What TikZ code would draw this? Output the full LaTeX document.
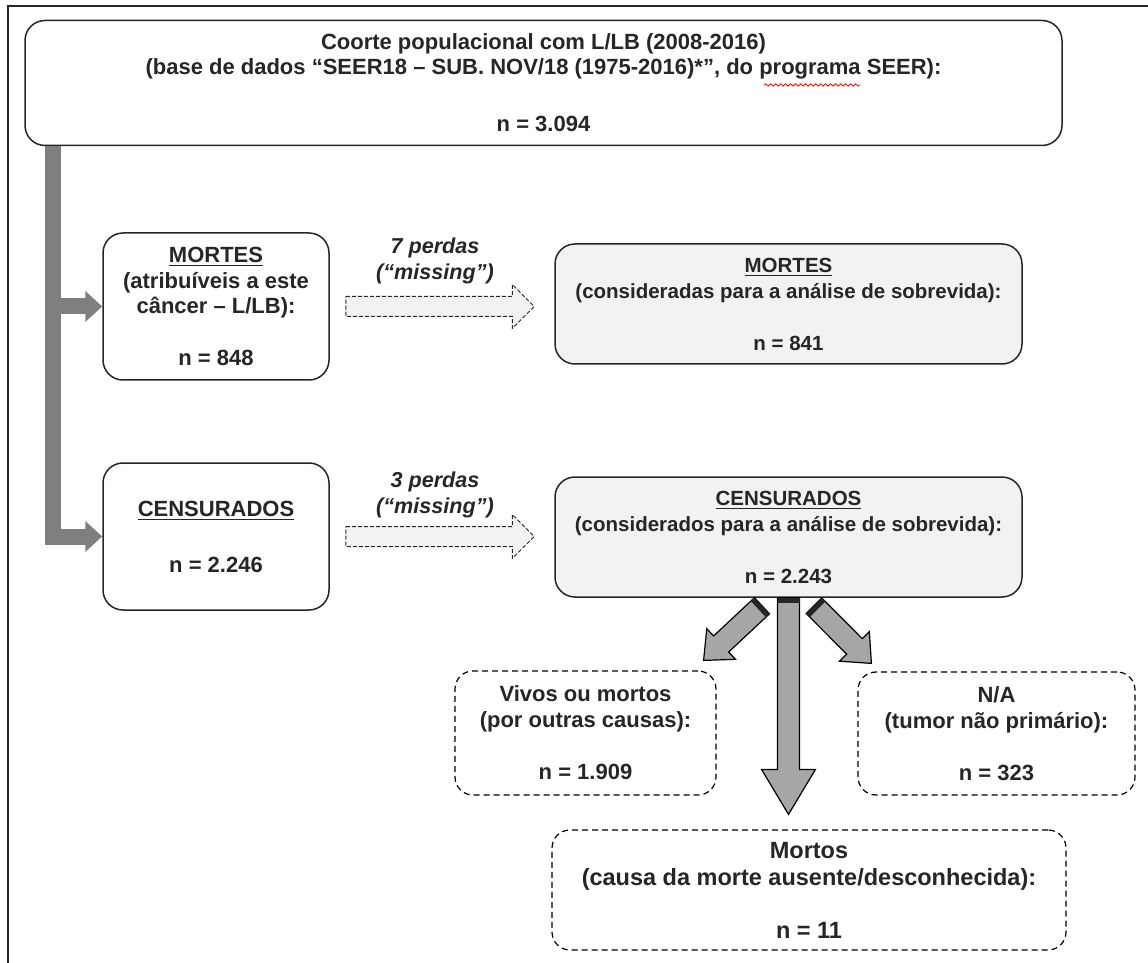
\documentclass[tikz,border=0pt]{standalone}
\usepackage{fontspec}
\setmainfont{Liberation Sans}
\usepackage{tikz}
\usetikzlibrary{calc}
\usetikzlibrary{arrows.meta}
\usetikzlibrary{decorations.pathmorphing}

\definecolor{inkgray}{HTML}{262626}
\definecolor{bargray}{HTML}{7F7F7F}
\definecolor{arrowgray}{HTML}{A6A6A6}
\definecolor{boxfill}{HTML}{F2F2F2}

\tikzset{
    every node/.style = {font=\fontsize{11}{13}\selectfont\bfseries, text=inkgray, align=center},
    roundbox/.style = {draw=inkgray, line width=0.75pt, rounded corners=10pt, inner sep=0pt, fill=white},
    greybox/.style = {roundbox, fill=boxfill, font=\fontsize{10.25}{13}\selectfont\bfseries},
    dashbox/.style = {draw=black, line width=0.6pt, dash pattern=on 3pt off 2pt, rounded corners=9pt, inner sep=0pt, fill=white},
    lossnote/.style = {font=\fontsize{10.8}{13}\selectfont\bfseries\itshape},
    sidebar/.style = {draw=bargray, line width=8pt, -{Triangle[length=8.5pt,width=15pt]}},
    lossarrow/.style = {draw=inkgray, line width=0.5pt, dash pattern=on 2pt off 1pt, fill=boxfill},
    splitarrow/.style = {draw=black, line width=0.6pt, fill=arrowgray}
}

% block arrow: [style]{from}{to}{half shaft}{half head}{head length}
\newcommand{\fatarrow}[6][]{%
    \coordinate (fa-h) at ($(#3)!#6!(#2)$);
    \draw[#1] ($(#2)!#4!90:(#3)$) -- ($(fa-h)!#4!90:(#3)$) -- ($(fa-h)!#5!90:(#3)$) -- (#3)
        -- ($(fa-h)!#5!-90:(#3)$) -- ($(fa-h)!#4!-90:(#3)$) -- ($(#2)!#4!-90:(#3)$) -- cycle;
}
\newcommand{\buttband}[3]{%
    \coordinate (bb-c) at ($(#1)!1.25pt!(#2)$);
    \draw[inkgray, line width=2.5pt] ($(bb-c)!#3!90:(#2)$) -- ($(bb-c)!#3!-90:(#2)$);
}

\begin{document}
\begin{tikzpicture}[x=0.5pt, y=-0.5pt]
    \useasboundingbox (0,0) rectangle (1148,963);
    \draw[inkgray, line width=1pt] (8,963) -- (8,6) -- (1148,6);

    \node[roundbox, minimum width=518.5pt, minimum height=62.5pt, font=\fontsize{11}{12.5}\selectfont\bfseries] (cohort) at (543.5,83)
        {Coorte populacional com L/LB (2008-2016)\\(base de dados “SEER18 – SUB. NOV/18 (1975-2016)*”, do programa SEER):\\[16pt]n = 3.094};
    \draw[red, line width=0.4pt, decorate, decoration={snake, amplitude=0.6pt, segment length=2.5pt}] (764,85) -- (860,85);

    \node[roundbox, minimum width=113pt, minimum height=73.5pt, font=\fontsize{11}{12.75}\selectfont\bfseries] (deaths) at (216,306.5)
        {\underline{MORTES}\\(atribuíveis a este\\câncer – L/LB):\\[13pt]n = 848};
    \node[roundbox, minimum width=113pt, minimum height=73.5pt] (censored) at (216,536.5)
        {\underline{CENSURADOS}\\[15pt]n = 2.246};
    \node[greybox, minimum width=233.5pt, minimum height=60pt] (deathsok) at (788.5,304)
        {\underline{MORTES}\\(consideradas para a análise de sobrevida):\\[13pt]n = 841};
    \node[greybox, minimum width=233.5pt, minimum height=60pt] (censok) at (788.5,537)
        {\underline{CENSURADOS}\\(considerados para a análise de sobrevida):\\[13pt]n = 2.243};

    \node[dashbox, minimum width=130.5pt, minimum height=62pt] (alive) at (585.5,733)
        {Vivos ou mortos\\(por outras causas):\\[13pt]n = 1.909};
    \node[dashbox, minimum width=138.5pt, minimum height=61.5pt] (notprim) at (996.5,733.5)
        {N/A\\(tumor não primário):\\[13pt]n = 323};
    \node[dashbox, minimum width=257pt, minimum height=60pt, font=\fontsize{11.75}{13.5}\selectfont\bfseries] (unknown) at (809,890)
        {Mortos\\(causa da morte ausente/desconhecida):\\[13pt]n = 11};

    % grey bar from the cohort
    \coordinate (bar) at (53,145);
    \draw[sidebar] (bar |- cohort.south) |- (censored.west);
    \draw[sidebar] (bar |- deaths.west) -- (deaths.west);

    % losses
    \coordinate (la-s) at ($(deaths.east)+(16,0)$);
    \coordinate (la-t) at ($(la-s -| deathsok.west)+(-20,0)$);
    \fatarrow[lossarrow]{la-s}{la-t}{5pt}{11pt}{11pt}
    \node[lossnote] (loss1) at ($(la-s)!0.5!(la-t)+(-5,-46)$) {7 perdas\\(“missing”)};

    \coordinate (lb-s) at ($(censored.east)+(16,0)$);
    \coordinate (lb-t) at ($(lb-s -| censok.west)+(-20,0)$);
    \fatarrow[lossarrow]{lb-s}{lb-t}{5pt}{11pt}{11pt}
    \node[lossnote] (loss2) at ($(lb-s)!0.5!(lb-t)+(-5,-42)$) {3 perdas\\(“missing”)};

    % split of the censored
    \coordinate (sl-s) at ($(censok.south)+(-26.5,8)$);
    \coordinate (sl-t) at ($(alive.north east)+(-13,-10)$);
    \fatarrow[splitarrow]{sl-s}{sl-t}{5.5pt}{10.5pt}{12pt}
    \buttband{sl-s}{sl-t}{5.5pt}

    \coordinate (sm-t) at ($(censok.south |- unknown.north)+(0,-15)$);
    \fatarrow[splitarrow]{censok.south}{sm-t}{5.5pt}{13.5pt}{22.5pt}
    \buttband{censok.south}{sm-t}{5.5pt}

    \coordinate (sr-s) at ($(censok.south)+(25.5,8)$);
    \coordinate (sr-t) at ($(notprim.north west)+(14,-8)$);
    \fatarrow[splitarrow]{sr-s}{sr-t}{5.5pt}{10.5pt}{12pt}
    \buttband{sr-s}{sr-t}{5.5pt}
\end{tikzpicture}
\end{document}
